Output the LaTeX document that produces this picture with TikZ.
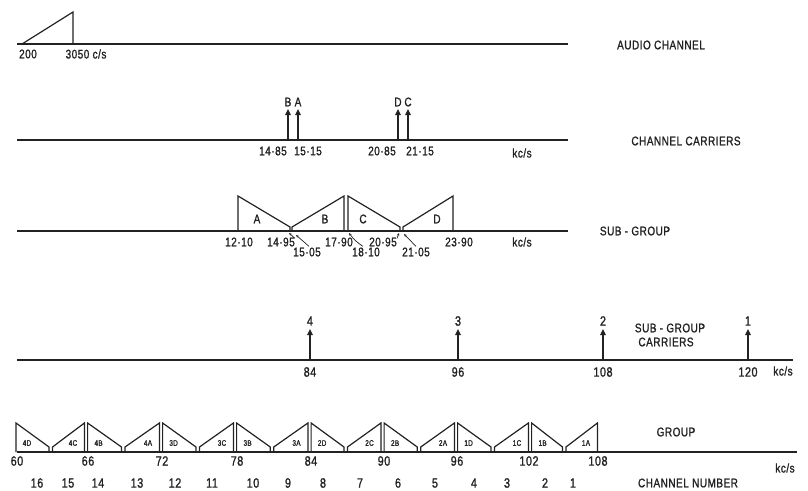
\documentclass[tikz,border=0pt]{standalone}
\usepackage{fontspec}
\setmainfont{Liberation Sans}[FakeStretch=0.8,LetterSpace=4,FakeBold=1.2]
\usetikzlibrary{arrows.meta}
\definecolor{ink}{HTML}{222222}
\begin{document}
\begin{tikzpicture}[x=1pt,y=-1pt,
  axis/.style={line width=1.3pt, draw=ink},
  shp/.style={line width=1.2pt, draw=ink, line join=miter},
  carrier/.style={line width=1.3pt, draw=ink, -{Triangle[length=6pt,width=5.5pt]}},
  leader/.style={line width=0.7pt, draw=ink, -{Stealth[length=3pt,width=2.5pt]}},
  lbl/.style={font=\fontsize{12.5}{13}\selectfont, text=ink, inner sep=0pt},
  big/.style={font=\fontsize{13.5}{14}\selectfont, text=ink, inner sep=0pt},
  tiny/.style={font=\fontsize{8}{9}\selectfont, text=ink, inner sep=0pt}]
\useasboundingbox (0,0) rectangle (808,490);

% ---------- Row 1: audio channel
\coordinate (a0) at (17,44); \coordinate (a1) at (568,44);
\draw[axis] (a0) -- (a1);
\draw[shp] (22,44) -- (73,12) -- (73,44);
\node[lbl] (l200) at (28,54) {200};
\node[lbl] (l3050) at (86,54) {3050 c/s};
\node[lbl] (audio) at (661,45) {AUDIO CHANNEL};

% ---------- Row 2: channel carriers
\coordinate (b0) at (17,140); \coordinate (b1) at (568,140);
\draw[axis] (b0) -- (b1);
\foreach \x/\n in {288/B,298/A,398/D,408/C}{
  \coordinate (cb\n) at (\x,140); \coordinate (ct\n) at (\x,109);
  \draw[carrier] (cb\n) -- (ct\n);
  \node[lbl] (cl\n) at (\x,102) {\n};
}
\node[lbl] (f1485) at (273,151) {14·85};
\node[lbl] (f1515) at (308,151) {15·15};
\node[lbl] (f2085) at (382,151) {20·85};
\node[lbl] (f2115) at (420,151) {21·15};
\node[lbl] (kc2) at (522,153) {kc/s};
\node[lbl] (chcar) at (686,141) {CHANNEL CARRIERS};

% ---------- Row 3: sub-group
\coordinate (s0) at (17,231); \coordinate (s1) at (568,231);
\draw[axis] (s0) -- (s1);
\draw[shp] (238,231) -- (238,196) -- (290,227) -- (290,231);
\draw[shp] (292,231) -- (292,227) -- (344,196) -- (344,231);
\draw[shp] (348,231) -- (348,196) -- (400,227) -- (400,231);
\draw[shp] (403,231) -- (403,227) -- (453,196) -- (453,231);
\node[lbl] (sA) at (257,219) {A};
\node[lbl] (sB) at (325,219) {B};
\node[lbl] (sC) at (363,219) {C};
\node[lbl] (sD) at (437,219) {D};
\node[lbl] (g1210) at (239,242) {12·10};
\node[lbl] (g1495) at (281,242) {14·95};
\node[lbl] (g1505) at (307,252) {15·05};
\node[lbl] (g1790) at (339,242) {17·90};
\node[lbl] (g1810) at (366,252) {18·10};
\node[lbl] (g2095) at (383,242) {20·95};
\node[lbl] (g2105) at (416,252) {21·05};
\node[lbl] (g2390) at (459,242) {23·90};
\coordinate (p1495) at (289,233); \coordinate (p1505) at (296,235);
\coordinate (p1810) at (349,233); \coordinate (p2095) at (399,233);
\coordinate (p2105) at (404,234);
\draw[leader] (g1495.north east) ++(0,1) -- (p1495);
\draw[leader] (g1505.north) ++(2,-1) -- (p1505);
\draw[leader] (g1810.north) ++(-3,-1) to[bend left=10] (p1810);
\draw[leader] (g2095.north east) ++(0,1) -- (p2095);
\draw[leader] (g2105.north) ++(0,-1) -- (p2105);
\node[lbl] (kc3) at (522,242) {kc/s};
\node[lbl] (subg) at (635,231) {SUB - GROUP};

% ---------- Row 4: sub-group carriers
\coordinate (c0) at (17,360); \coordinate (c1) at (793,360);
\draw[axis] (c0) -- (c1);
\foreach \x/\n/\f in {310/4/84,458/3/96,603/2/108,748/1/120}{
  \coordinate (qb\n) at (\x,360); \coordinate (qt\n) at (\x,329);
  \draw[carrier] (qb\n) -- (qt\n);
  \node[big] (ql\n) at (\x,321) {\n};
  \node[big] (qf\n) at (\x,372) {\f};
}
\node[lbl] (kc4) at (783,371) {kc/s};
\node[lbl] (sgc1) at (670,328) {SUB - GROUP};
\node[lbl] (sgc2) at (666,342) {CARRIERS};

% ---------- Row 5: group
\coordinate (g0) at (17,452); \coordinate (g1) at (797,452);
\draw[axis] (g0) -- (g1);
\foreach \a/\b/\L/\R in {16/86/4D/4C, 86/161/4B/4A, 161/235/3D/3C, 235/309.5/3B/3A,
                         309.5/382.5/2D/2C, 382.5/456/2B/2A, 456/530/1D/1C, 530/599/1B/1A}{
  \pgfmathsetmacro{\m}{(\a+\b)/2}
  \pgfmathsetmacro{\al}{\a==16 ? 16 : \a+1.6}
  \draw[shp] (\al,452) -- (\al,423) -- (\m-2,447) -- (\m-2,452);
  \draw[shp] (\m+1.5,452) -- (\m+1.5,447) -- (\b-1.6,423) -- (\b-1.6,452);
  \node[tiny] (gl\L) at (\al+11,443) {\L};
  \node[tiny] (gl\R) at (\b-13,443) {\R};
}
\foreach \x/\f in {17/60,88/66,162/72,237/78,311/84,384/90,457/96,529/102,598/108}{
  \node[big] (gf\f) at (\x,461) {\f};
}
\foreach \x/\c in {37/16,68/15,98/14,137/13,175/12,212/11,253/10,288/9,323/8,360/7,398/6,435/5,474/4,507/3,545/2,573/1}{
  \node[big] (ch\c) at (\x,483) {\c};
}
\node[lbl] (kc5) at (785,468) {kc/s};
\node[lbl] (grp) at (676,432) {GROUP};
\node[lbl] (chn) at (688,483) {CHANNEL NUMBER};
\end{tikzpicture}
\end{document}
